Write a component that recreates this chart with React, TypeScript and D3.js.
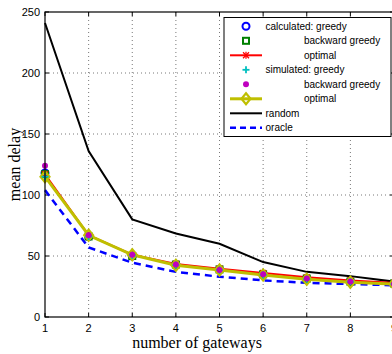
import React from "react";
import * as d3 from "d3";

const gateways = [1, 2, 3, 4, 5, 6, 7, 8, 9];
const calcGreedy = [118, 66, 50, 43, 39, 35, 31.5, 29, 27.5];
const calcBackward = [117, 66, 50, 43, 39, 35, 31.5, 29, 27.5];
const calcOptimal = [117, 67, 51, 43.5, 39.5, 36, 32.5, 30, 28];
const simGreedy = [115, 66, 50.5, 42.5, 38.5, 34.5, 31, 29, 27];
const simBackward = [124, 67, 51, 43, 38.5, 35, 31.5, 29, 27];
const simOptimal = [115, 67, 51, 42.5, 38.5, 34.5, 31, 28.5, 27];
const randomDelay = [241, 136, 80, 68.5, 60, 45, 37, 33.5, 29];
const oracleDelay = [104, 57, 44.5, 37, 33, 30, 28, 27, 26];
const yTicks = [0, 50, 100, 150, 200, 250];
const xTicks = [1, 2, 3, 4, 5, 6, 7, 8, 9];
const legendLabels = [
  "calculated: greedy",
  "backward greedy",
  "optimal",
  "simulated: greedy",
  "backward greedy",
  "optimal",
  "random",
  "oracle",
];

const W = 392;
const H = 354;
const L = 45, R = 394, T = 12, B = 317;

export default function App() {
  const x = d3.scaleLinear().domain([1, 9]).range([L, R]);
  const y = d3.scaleLinear().domain([0, 250]).range([B, T]);
  const line = (vals: number[]) =>
    d3.line<number>().x((_, i) => x(gateways[i])).y((d) => y(d))(vals) || "";

  const circle = (cx: number, cy: number, k: string) => (
    <circle key={k} cx={cx} cy={cy} r={3.5} fill="none" stroke="#0000ff" strokeWidth={2} />
  );
  const square = (cx: number, cy: number, k: string) => (
    <rect key={k} x={cx - 3} y={cy - 3} width={6} height={6} fill="none" stroke="#008000" strokeWidth={2} />
  );
  const star = (cx: number, cy: number, k: string) => (
    <g key={k} stroke="#ff0000" strokeWidth={1.3}>
      <line x1={cx - 3} y1={cy - 3} x2={cx + 3} y2={cy + 3} />
      <line x1={cx - 3} y1={cy + 3} x2={cx + 3} y2={cy - 3} />
      <line x1={cx} y1={cy - 3.5} x2={cx} y2={cy + 3.5} />
    </g>
  );
  const plus = (cx: number, cy: number, k: string) => (
    <g key={k} stroke="#00bfbf" strokeWidth={1.8}>
      <line x1={cx - 3.5} y1={cy} x2={cx + 3.5} y2={cy} />
      <line x1={cx} y1={cy - 3.5} x2={cx} y2={cy + 3.5} />
    </g>
  );
  const dot = (cx: number, cy: number, k: string) => (
    <circle key={k} cx={cx} cy={cy} r={3} fill="#bf00bf" stroke="none" />
  );
  const diamond = (cx: number, cy: number, k: string) => (
    <path key={k} d={`M${cx},${cy - 5.5}L${cx + 4.5},${cy}L${cx},${cy + 5.5}L${cx - 4.5},${cy}Z`} fill="none" stroke="#bfbf00" strokeWidth={2.2} />
  );

  const lx1 = 230, lx2 = 262, lmx = 246;
  const rowY = (i: number) => 26.3 + i * 14.5;

  return (
    <svg width={W} height={H} style={{ position: "absolute", left: 0, top: 0, background: "#fff" }}>
      <rect x={0} y={0} width={W} height={H} fill="#fff" />
      {/* grid */}
      {yTicks.slice(1, -1).map((t) => (
        <line key={"gy" + t} x1={L} x2={R} y1={y(t)} y2={y(t)} stroke="#555" strokeWidth={0.8} strokeDasharray="1,3" />
      ))}
      {xTicks.slice(1, -1).map((t) => (
        <line key={"gx" + t} x1={x(t)} x2={x(t)} y1={T} y2={B} stroke="#555" strokeWidth={0.8} strokeDasharray="1,3" />
      ))}
      {/* ticks */}
      {yTicks.map((t) => (
        <g key={"ty" + t}>
          <line x1={L} x2={L + 4} y1={y(t)} y2={y(t)} stroke="#000" />
          <line x1={R - 4} x2={R} y1={y(t)} y2={y(t)} stroke="#000" />
          <text x={L - 5} y={y(t) + 4} fontSize={11} fontFamily="Liberation Sans, Arial, sans-serif" textAnchor="end">{t}</text>
        </g>
      ))}
      {xTicks.map((t) => (
        <g key={"tx" + t}>
          <line x1={x(t)} x2={x(t)} y1={B} y2={B - 4} stroke="#000" />
          <line x1={x(t)} x2={x(t)} y1={T} y2={T + 4} stroke="#000" />
          <text x={x(t)} y={B + 15} fontSize={11} fontFamily="Liberation Sans, Arial, sans-serif" textAnchor="middle">{t}</text>
        </g>
      ))}
      {/* data */}
      <path d={line(randomDelay)} fill="none" stroke="#000" strokeWidth={2} />
      <path d={line(oracleDelay)} fill="none" stroke="#0000ff" strokeWidth={2.5} strokeDasharray="7,5" />
      <path d={line(calcOptimal)} fill="none" stroke="#ff0000" strokeWidth={2} />
      <path d={line(simOptimal)} fill="none" stroke="#bfbf00" strokeWidth={3} />
      {calcGreedy.map((v, i) => circle(x(gateways[i]), y(v), "c" + i))}
      {calcBackward.map((v, i) => square(x(gateways[i]), y(v), "s" + i))}
      {calcOptimal.map((v, i) => star(x(gateways[i]), y(v), "st" + i))}
      {simOptimal.map((v, i) => diamond(x(gateways[i]), y(v), "d" + i))}
      {simGreedy.map((v, i) => plus(x(gateways[i]), y(v), "p" + i))}
      {simBackward.map((v, i) => dot(x(gateways[i]), y(v), "m" + i))}
      {/* frame */}
      <rect x={L} y={T} width={R - L} height={B - T} fill="none" stroke="#000" strokeWidth={1.2} />
      {/* legend */}
      <rect x={224} y={17.5} width={167} height={119} fill="#fff" stroke="#000" strokeWidth={1} />
      {circle(lmx, rowY(0), "lc")}
      {square(lmx, rowY(1), "ls")}
      <line x1={lx1} x2={lx2} y1={rowY(2)} y2={rowY(2)} stroke="#ff0000" strokeWidth={2} />
      {star(lmx, rowY(2), "lst")}
      {plus(lmx, rowY(3), "lp")}
      {dot(lmx, rowY(4), "lm")}
      <line x1={lx1} x2={lx2} y1={rowY(5)} y2={rowY(5)} stroke="#bfbf00" strokeWidth={3} />
      {diamond(lmx, rowY(5), "ld")}
      <line x1={lx1} x2={lx2} y1={rowY(6)} y2={rowY(6)} stroke="#000" strokeWidth={2} />
      <line x1={lx1} x2={lx2} y1={rowY(7)} y2={rowY(7)} stroke="#0000ff" strokeWidth={2.5} strokeDasharray="6,4" />
      {legendLabels.map((s, i) => (
        <text
          key={"lt" + i}
          x={i === 1 || i === 2 || i === 4 || i === 5 ? 304 : 265.5}
          y={rowY(i) + 3.5}
          fontSize={10}
          fontFamily="Liberation Sans, Arial, sans-serif"
        >
          {s}
        </text>
      ))}
      {/* axis labels */}
      <text x={197} y={348} fontSize={16} fontFamily="Liberation Serif, Times New Roman, serif" textAnchor="middle">number of gateways</text>
      <text transform={`translate(20,${(T + B) / 2}) rotate(-90)`} fontSize={16} fontFamily="Liberation Serif, Times New Roman, serif" textAnchor="middle">mean delay</text>
    </svg>
  );
}
